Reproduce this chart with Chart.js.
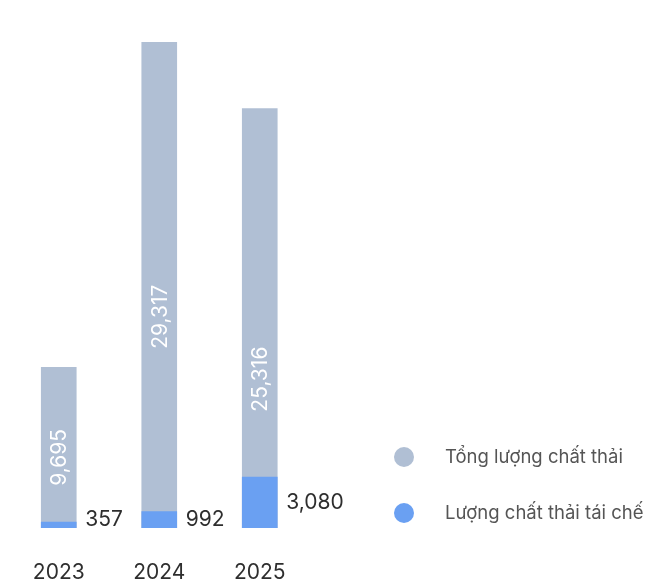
<!DOCTYPE html>
<html>
<head>
<meta charset="utf-8">
<script src="https://cdn.jsdelivr.net/npm/chart.js@4.4.1/dist/chart.umd.min.js"></script>
<style>
  html, body { margin: 0; padding: 0; background: #fff; }
  #wrap { width: 671px; height: 585px; position: relative; }
</style>
</head>
<body>
<div id="wrap"><canvas id="chart"></canvas></div>
<script>
// Data
const years = ['2023', '2024', '2025'];
const totalWaste = [9695, 29317, 25316];
const recycledWaste = [357, 992, 3080];
const seriesNames = ['Tổng lượng chất thải', 'Lượng chất thải tái chế'];
const yMax = 30000;

const fmt = v => v.toLocaleString('en-US');
const FONT = 'Inter, "Noto Sans", sans-serif';

// Value labels: white rotated text inside the total bar, dark text beside the recycled bar
const valueLabels = {
  id: 'valueLabels',
  afterDatasetsDraw(chart, args, opts) {
    const ctx = chart.ctx;
    const totalMeta = chart.getDatasetMeta(0);
    const recMeta = chart.getDatasetMeta(1);
    ctx.save();
    ctx.font = '21px ' + FONT;
    ctx.textBaseline = 'middle';

    totalMeta.data.forEach((bar, i) => {
      const h = bar.base - bar.y;
      const cy = bar.base - h * opts.insideAt[i];
      ctx.save();
      ctx.translate(bar.x, cy);
      ctx.rotate(-Math.PI / 2);
      ctx.textAlign = 'center';
      ctx.fillStyle = '#ffffff';
      ctx.fillText(fmt(totalWaste[i]), 0, 1);
      ctx.restore();
    });

    recMeta.data.forEach((bar, i) => {
      const cy = Math.min((bar.y + bar.base) / 2, bar.base - 8);
      ctx.textAlign = 'left';
      ctx.fillStyle = '#2e2e2e';
      ctx.fillText(fmt(recycledWaste[i]), bar.x + bar.width / 2 + 9, cy);
    });
    ctx.restore();
  }
};

// Legend on the right, circle markers
const sideLegend = {
  id: 'sideLegend',
  afterDraw(chart, args, opts) {
    const ctx = chart.ctx;
    ctx.save();
    ctx.font = '18.5px ' + FONT;
    ctx.textBaseline = 'middle';
    ctx.textAlign = 'left';
    chart.data.datasets.forEach((ds, i) => {
      const y = opts.top + i * opts.rowGap;
      ctx.beginPath();
      ctx.arc(opts.x, y, 10, 0, Math.PI * 2);
      ctx.fillStyle = ds.backgroundColor;
      ctx.fill();
      ctx.fillStyle = '#555555';
      ctx.fillText(ds.label, opts.x + 41, y);
    });
    ctx.restore();
  }
};

new Chart(document.getElementById('chart'), {
  type: 'bar',
  data: {
    labels: years,
    datasets: [
      {
        label: seriesNames[0],
        data: totalWaste,
        backgroundColor: '#B0BFD4',
        barThickness: 35,
        order: 1
      },
      {
        label: seriesNames[1],
        data: recycledWaste,
        backgroundColor: '#6AA0F2',
        barThickness: 35,
        order: 0
      }
    ]
  },
  options: {
    responsive: true,
    maintainAspectRatio: false,
    animation: false,
    layout: { padding: { top: 31, left: 5, right: 361, bottom: 0 } },
    scales: {
      x: {
        stacked: true,
        grid: { display: false, drawTicks: false },
        border: { display: false },
        ticks: {
          color: '#2e2e2e',
          padding: 32,
          font: { family: FONT, size: 21 }
        },
        // keep the axis band fixed so the baseline sits where the reference has it
        afterFit(scale) { scale.height = 57; }
      },
      y: {
        display: false,
        min: 0,
        max: yMax
      }
    },
    plugins: {
      legend: { display: false },
      tooltip: { enabled: false },
      valueLabels: { insideAt: [0.44, 0.435, 0.355] },
      sideLegend: { x: 404, top: 457, rowGap: 56 }
    }
  },
  plugins: [valueLabels, sideLegend]
});
</script>
</body>
</html>
